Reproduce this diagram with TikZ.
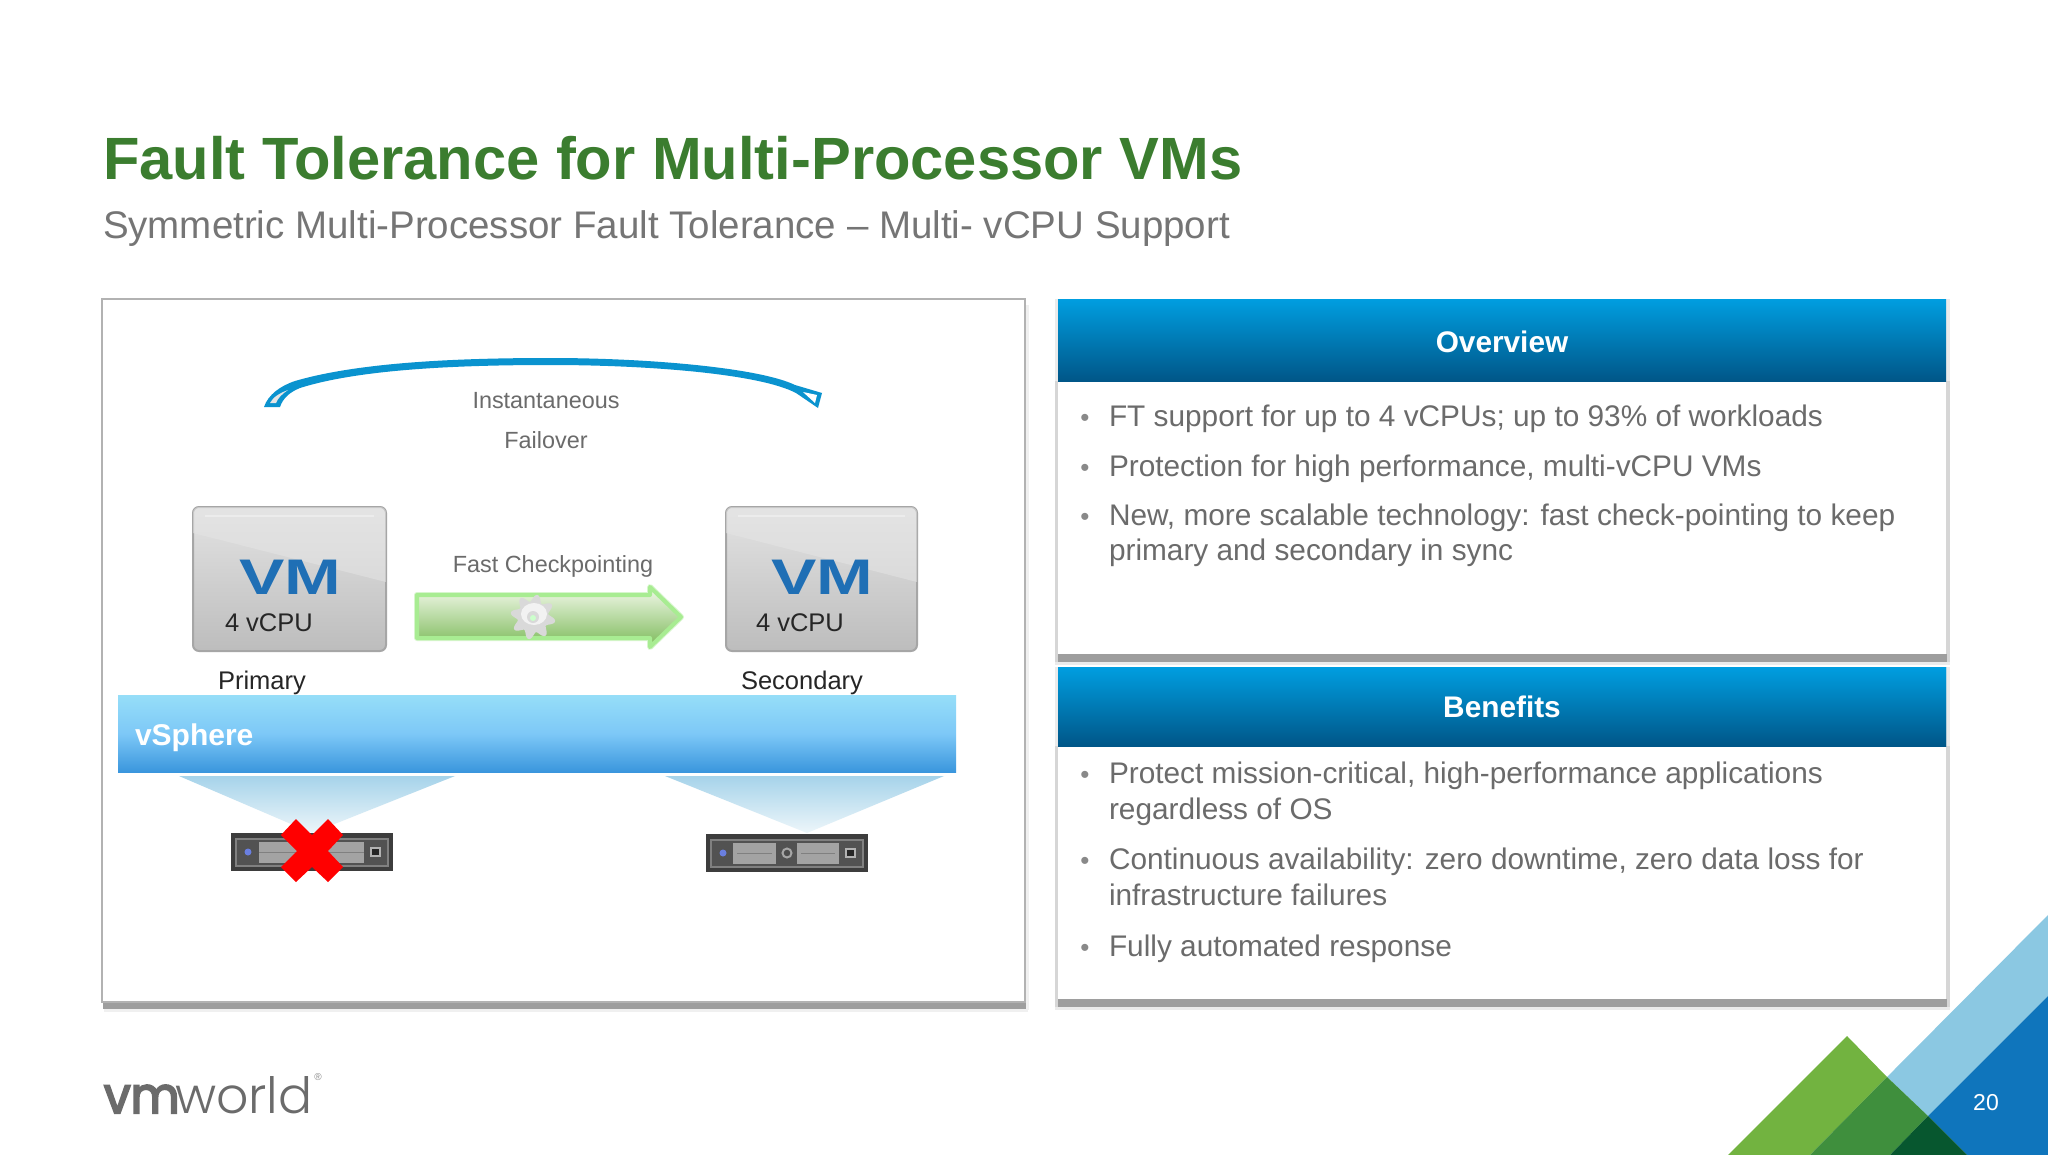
\documentclass[tikz,border=0pt]{standalone}
\usepackage{fontspec}
\setmainfont{Liberation Sans}
\newfontfamily\logofont{Poppins}
\newfontfamily\logolight{Poppins Light}
\definecolor{titlegreen}{HTML}{3B7D2F}
\definecolor{subgray}{HTML}{757575}
\definecolor{bodygray}{HTML}{6B6B6B}
\definecolor{arcblue}{HTML}{0A93CF}
\definecolor{vmblue}{HTML}{1F6FB5}
\definecolor{hdtop}{HTML}{009EE0}
\definecolor{hdbot}{HTML}{005688}
\definecolor{wedgetop}{HTML}{A6D3EA}
\definecolor{wedgebot}{HTML}{EDF6FA}
\definecolor{cornerlb}{HTML}{8BC8E2}
\definecolor{cornerb}{HTML}{0F75BC}
\definecolor{cornerlg}{HTML}{72B340}
\definecolor{cornermg}{HTML}{3F8F3D}
\definecolor{cornerdg}{HTML}{07572F}
\definecolor{arrowglow}{HTML}{A8EC92}
\definecolor{arrowtop}{HTML}{F2F8EA}
\definecolor{arrowmid}{HTML}{D0E8BC}
\definecolor{arrowbot}{HTML}{7DBB5A}
\definecolor{serverdot}{HTML}{6A7FE0}
\tikzset{
 x=0.5pt,y=-0.5pt,
 txt/.style={inner sep=0pt,outer sep=0pt},
 bullettxt/.style={txt,anchor=base west,text=bodygray,font=\fontsize{14.9}{18}\selectfont},
 bulletmark/.style={txt,anchor=base,text=bodygray!80,font=\fontsize{13}{18}\selectfont},
 headertxt/.style={txt,anchor=base,text=white,font=\bfseries\fontsize{14.9}{18}\selectfont},
 labeltxt/.style={txt,anchor=base,font=\fontsize{12.75}{15}\selectfont,text=black!85},
 graytxt/.style={txt,anchor=base,font=\fontsize{11.7}{14}\selectfont,text=black!58},
 vmtxt/.style={txt,anchor=base,text=vmblue,font=\bfseries\fontsize{25}{25}\selectfont,xscale=1.36},
 header/.style={top color=hdtop,bottom color=hdbot,draw=none},
 vmbox/.style={rounded corners=3pt},
 wedge/.style={top color=wedgetop,bottom color=wedgebot,draw=none},
}
\begin{document}
\begin{tikzpicture}
\useasboundingbox (0,0) rectangle (2048,1155);
\fill[white] (0,0) rectangle (2048,1155);
% title
\node[txt,anchor=base west,text=titlegreen,font=\bfseries\fontsize{29.83}{34}\selectfont] (title) at (103,180) {Fault Tolerance for Multi-Processor VMs};
\node[txt,anchor=base west,text=subgray,font=\fontsize{19.24}{24}\selectfont] (subtitle) at (103,238) {Symmetric Multi-Processor Fault Tolerance – Multi- vCPU Support};
% left panel
\fill[black!6] (104,1006) rectangle (1028,1012);
\fill[black!6] (1025,305) rectangle (1029,1010);
\fill[black!38] (103,1001) rectangle (1026,1009);
\draw[draw=black!30,line width=1pt,fill=white] (102,299) rectangle (1025,1002);
% arc
\fill[arcblue] (264,407) .. controls (268,395) and (280,386) .. (295,381) .. controls (360,362) and (460,358) .. (550,358)
 .. controls (650,358) and (760,368) .. (795,385) -- (822,393) -- (818,408) -- (796,393)
 .. controls (760,374) and (650,365) .. (550,365) .. controls (460,365) and (360,369) .. (300,388) .. controls (290,392) and (283,398) .. (280,407) -- cycle;
\fill[black!10] (270,403) .. controls (273,397) and (280,393) .. (288,390) .. controls (282,394) and (278,398) .. (276,403) -- cycle;
\fill[white] (803,392) -- (817,395) -- (815,403) -- cycle;
\node[graytxt] (inst) at (546,408) {Instantaneous};
\node[graytxt] (fail) at (546,448) {Failover};
% VM boxes
\foreach \nm/\xa/\xb in {vmA/193/386,vmB/726/917}{
 \draw[draw=black!35,line width=1pt,vmbox,top color=black!11,bottom color=black!26] (\xa,507) rectangle (\xb,651);
 \begin{scope}
 \clip[vmbox] (\xa,507) rectangle (\xb,651);
 \fill[black!10,opacity=.55] (\xa,507) -- (\xb,507) -- (\xb,582) -- (\xa,533) -- cycle;
 \end{scope}
 \draw[white,opacity=.35,line width=1pt] (\xa+12,516) -- (\xb-12,516);
 \coordinate (\nm) at (\xa,507);
}
\node[vmtxt] (vmtA) at (290,594) {VM};
\node[vmtxt] (vmtB) at (822,594) {VM};
\node[labeltxt,anchor=base west] (cpuA) at (225,631) {4 vCPU};
\node[labeltxt,anchor=base west] (cpuB) at (756,631) {4 vCPU};
\node[labeltxt] (prim) at (262,689) {Primary};
\node[labeltxt] (sec) at (802,689) {Secondary};
% green arrow
\node[graytxt] (fast) at (553,572) {Fast Checkpointing};
\draw[draw=arrowglow,line width=3pt,line join=round,opacity=.45]
 (417,595) -- (650,595) -- (650,587) -- (681,617) -- (650,647) -- (650,638) -- (417,638) -- cycle;
\draw[draw=arrowglow,line width=2pt,line join=round,
 top color=arrowtop,middle color=arrowmid,bottom color=arrowbot]
 (417,595) -- (650,595) -- (650,587) -- (681,617) -- (650,647) -- (650,638) -- (417,638) -- cycle;
\fill[black!15] plot[domain=0:360,samples=145,smooth] ({533+(19+3.5*sin(8*\x))*cos(\x)},{617+(19+3.5*sin(8*\x))*sin(\x)});
\fill[black!5] (534,614) ellipse (13 and 11);
\fill[black!15] (533,617) ellipse (6 and 6);
\fill[green!20!white] (533,618) ellipse (3 and 3);
% vSphere bar
\shade[top color={rgb,255:red,150;green,222;blue,248},bottom color={rgb,255:red,58;green,150;blue,221},middle color={rgb,255:red,125;green,200;blue,247}] (118,695) rectangle (956,772);
\node[txt,anchor=base west,text=white,font=\bfseries\fontsize{15}{18}\selectfont] (vs) at (135,745) {vSphere};
% wedges
\shade[wedge] (179,776) -- (455,776) -- (312,833) -- cycle;
\shade[wedge] (665,776) -- (944,776) -- (807,833) -- cycle;
% servers
\foreach \xo/\yo in {231/833,706/834}{
 \fill[black!76] (\xo,\yo) rectangle +(162,38);
 \fill[black!68] (\xo+5,\yo+6) rectangle +(152,27);
 \draw[black!50,line width=.8pt] (\xo+5,\yo+6) rectangle +(152,27);
 \fill[serverdot] (\xo+17,\yo+19) circle (3.5);
 \draw[black!30,fill=black!85,line width=.7pt] (\xo+140,\yo+15) rectangle +(9,8);
}
\fill[black!36] (259,842) rectangle (364,863);
\draw[black!50,line width=.3pt] (259,852) -- (364,852);
\fill[black!36] (733,843) rectangle (776,864);
\fill[black!36] (797,843) rectangle (839,864);
\draw[black!50,line width=.3pt] (737,853) -- (772,853) (801,853) -- (835,853);
\draw[black!35,fill=black!70,line width=1pt] (787,853) circle (4.5);
% red X
\fill[red] (296,819) -- (312,835) -- (328,819) -- (343,835) -- (328,851) -- (343,867) -- (328,882) -- (312,867) -- (296,882) -- (281,867) -- (297,851) -- (281,835) -- cycle;
% right panels
\foreach \ya/\yb/\yc in {299/381/654,667/746/999}{
 \fill[black!8] (1055,\ya) rectangle (1950,\yc+11);
 \fill[black!16] (1055,\yb) rectangle (1950,\yc+8);
 \fill[black!38] (1058,\yc) rectangle (1947,\yc+8);
 \fill[white] (1058,\yb) rectangle (1946,\yc);
 \shade[header] (1058,\ya) rectangle (1946,\yb);
}
\fill[white] (1040,665) rectangle (1960,667);
\shade[header] (1058,667) rectangle (1946,746);
\node[headertxt] (ov) at (1502,352) {Overview};
\node[headertxt] (bf) at (1502,717) {Benefits};
\foreach \nm/\yy/\tx in {
 a/426/{FT support for up to 4 vCPUs; up to 93\% of workloads},
 b/476/{Protection for high performance, multi-vCPU VMs},
 c/525/{New, more scalable technology: fast check-pointing to keep},
 e/783/{Protect mission-critical, high-performance applications},
 g/869/{Continuous availability: zero downtime, zero data loss for},
 i/956/{Fully automated response}}{
 \node[bulletmark] (b\nm) at (1085,\yy) {•};
 \node[bullettxt] (t\nm) at (1109,\yy) {\tx};
}
\node[bullettxt] (td) at (1109,560) {primary and secondary in sync};
\node[bullettxt] (tf) at (1109,819) {regardless of OS};
\node[bullettxt] (th) at (1109,905) {infrastructure failures};
% corner
\fill[cornerlb] (1887,1077) -- (2048,915) -- (2048,996) -- (1928,1116) -- cycle;
\fill[cornerb] (1928,1116) -- (2048,996) -- (2048,1155) -- (1967,1155) -- cycle;
\fill[cornerlg] (1847,1036) -- (1887,1077) -- (1810,1155) -- (1728,1155) -- cycle;
\fill[cornermg] (1887,1077) -- (1928,1116) -- (1890,1155) -- (1810,1155) -- cycle;
\fill[cornerdg] (1928,1116) -- (1967,1155) -- (1890,1155) -- cycle;
\node[txt,anchor=base,text=white,font=\fontsize{11.5}{14}\selectfont] (pg) at (1986,1110) {20};
% logo
\node[txt,anchor=base west,text=black!58,font=\logofont\fontsize{25}{28}\selectfont,xscale=.95] (logovm) at (104,1113) {\addfontfeature{FakeBold=4}vm};
\node[txt,anchor=base west,text=black!58,font=\logolight\fontsize{25}{28}\selectfont,xscale=1.01] (logow) at (175,1113) {world};
\node[txt,anchor=center,text=black!45,font=\fontsize{5}{6}\selectfont] (reg) at (318,1077) {®};
\end{tikzpicture}
\end{document}
